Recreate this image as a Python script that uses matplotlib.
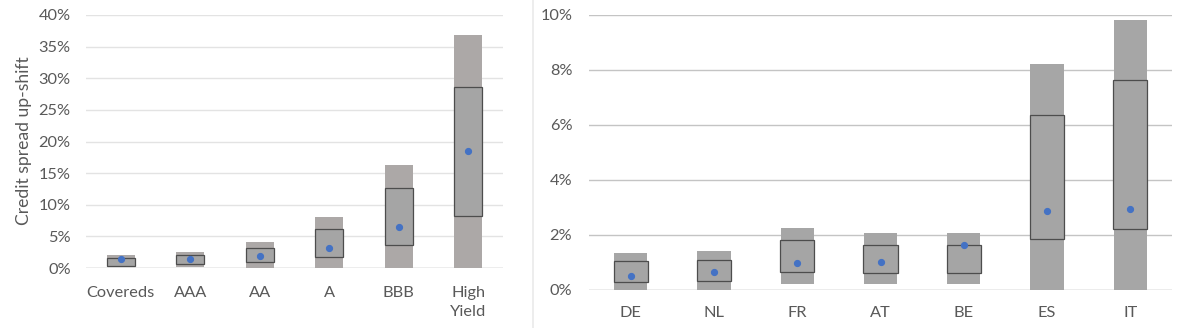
import matplotlib
matplotlib.use("Agg")
import matplotlib.pyplot as plt
from matplotlib.ticker import FuncFormatter

plt.rcParams['font.family'] = ['Lato', 'DejaVu Sans']

# Left panel: ratings (values in %)
rating_cats = ['Covereds', 'AAA', 'AA', 'A', 'BBB', 'High\nYield']
rating_lo = [0.1, 0.2, 0.0, 0.0, 0.0, 0.0]
rating_hi = [2.0, 2.5, 4.1, 8.0, 16.3, 36.9]
rating_q1 = [0.35, 0.7, 0.9, 1.8, 3.7, 8.3]
rating_q3 = [1.55, 2.0, 3.1, 6.2, 12.7, 28.6]
rating_mid = [1.42, 1.42, 1.84, 3.16, 6.53, 18.5]
rating_ticks = [0, 5, 10, 15, 20, 25, 30, 35, 40]

# Right panel: countries (values in %)
country_cats = ['DE', 'NL', 'FR', 'AT', 'BE', 'ES', 'IT']
country_lo = [0.0, 0.0, 0.19, 0.19, 0.19, 0.0, 0.0]
country_hi = [1.32, 1.40, 2.24, 2.07, 2.07, 8.2, 9.81]
country_q1 = [0.29, 0.32, 0.65, 0.60, 0.60, 1.83, 2.19]
country_q3 = [1.03, 1.07, 1.79, 1.64, 1.64, 6.36, 7.61]
country_mid = [0.51, 0.63, 0.97, 1.02, 1.61, 2.86, 2.93]
country_ticks = [0, 2, 4, 6, 8, 10]

W, H = 1177, 328
fig = plt.figure(figsize=(W / 100, H / 100), dpi=100)
TXT = '#595959'
FS = 11.8
pct = FuncFormatter(lambda v, p: f'{v:.0f}%')


def panel(rect, cats, lo, hi, q1, q3, mid, ticks, outer_col, grid_col, pad_y, pad_x):
    x0, y0, x1, y1 = rect
    ax = fig.add_axes([x0 / W, 1 - y1 / H, (x1 - x0) / W, (y1 - y0) / H])
    xs = list(range(len(cats)))
    ax.bar(xs, [h - l for h, l in zip(hi, lo)], bottom=lo, width=0.4,
           color=outer_col, zorder=2)
    ax.bar(xs, [b - a for a, b in zip(q1, q3)], bottom=q1, width=0.41,
           color='#A5A5A5', edgecolor='#4D4D4D', linewidth=0.9, zorder=3)
    ax.plot(xs, mid, 'o', color='#4472C4', markersize=4.2, zorder=4, linestyle='none')
    ax.set_xlim(-0.5, len(cats) - 0.5)
    ax.set_ylim(ticks[0], ticks[-1])
    ax.set_yticks(ticks)
    ax.yaxis.set_major_formatter(pct)
    ax.set_xticks(xs)
    ax.set_xticklabels(cats, linespacing=1.45)
    ax.grid(axis='y', color=grid_col, linewidth=1.0, zorder=0)
    ax.axhline(0, color='#EBEBEB', linewidth=1.2, zorder=1)
    for s in ax.spines.values():
        s.set_visible(False)
    ax.tick_params(axis='both', length=0, labelsize=FS, labelcolor=TXT)
    ax.tick_params(axis='y', pad=pad_y)
    ax.tick_params(axis='x', pad=pad_x)
    ax.set_axisbelow(True)
    return ax


panel((86, 15, 503, 268), rating_cats, rating_lo, rating_hi, rating_q1, rating_q3,
      rating_mid, rating_ticks, '#ACA8A7', '#E3E3E3', 11, 13)
panel((589, 14.7, 1172, 289.7), country_cats, country_lo, country_hi, country_q1,
      country_q3, country_mid, country_ticks, '#A6A6A6', '#C4C4C4', 12, 12)

fig.text(24 / W, 1 - 141 / H, 'Credit spread up-shift', rotation=90, ha='center',
         va='center', fontsize=12.6, color=TXT)
fig.add_artist(plt.Line2D([533 / W, 533 / W], [0, 1], color='#EAEAEA', linewidth=1.2))

fig.savefig('out.png', dpi=100)
